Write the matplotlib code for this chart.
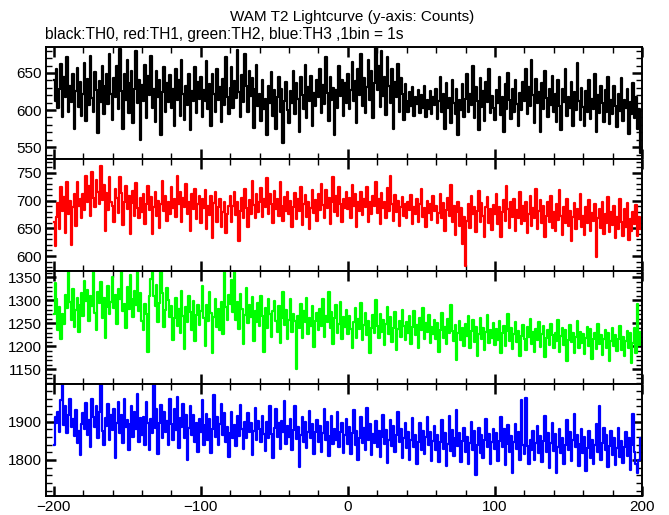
import numpy as np
import matplotlib.pyplot as plt
from matplotlib.ticker import MultipleLocator

plt.rcParams['font.family'] = ['Liberation Sans', 'DejaVu Sans']

# time bins (1 bin = 1 s)
t = np.arange(-200, 200)

th0 = [
    640, 612, 655, 603, 628, 662, 590, 645, 618, 672, 598, 633, 611, 649, 575, 626, 657, 604, 638, 592,
    621, 664, 585, 642, 607, 673, 616, 598, 651, 627, 569, 639, 611, 660, 594, 633, 648, 608, 676, 622,
    587, 643, 618, 659, 601, 682, 626, 575, 648, 613, 667, 596, 637, 653, 582, 628, 679, 609, 641, 559,
    634, 612, 661, 589, 646, 620, 673, 603, 629, 584, 652, 617, 640, 566, 624, 658, 598, 636, 611, 647,
    603, 629, 578, 655, 614, 640, 592, 667, 621, 586, 633, 607, 649, 573, 626, 612, 658, 596, 638, 615,
    644, 590, 627, 612, 666, 601, 635, 579, 648, 622, 597, 656, 613, 631, 584, 642, 607, 671, 618, 594,
    630, 658, 603, 639, 616, 681, 624, 590, 647, 611, 675, 632, 598, 652, 619, 643, 576, 628, 661, 605,
    622, 585, 640, 601, 615, 566, 633, 609, 651, 592, 627, 574, 618, 644, 597, 629, 556, 612, 638, 600,
    583, 626, 609, 652, 594, 637, 615, 571, 644, 620, 602, 661, 589, 631, 612, 646, 578, 623, 606, 640,
    617, 655, 596, 634, 608, 672, 623, 585, 645, 614, 630, 567, 627, 603, 659, 619, 641, 592, 636, 610,
    648, 601, 627, 665, 612, 639, 583, 656, 620, 675, 606, 643, 596, 631, 668, 613, 652, 589, 637, 684,
    627, 660, 604, 680, 619, 645, 593, 671, 632, 610, 656, 574, 638, 617, 662, 598, 643, 621, 587, 635,
    612, 598, 624, 605, 631, 592, 617, 608, 627, 596, 620, 603, 633, 590, 614, 601, 626, 594, 618, 607,
    629, 588, 612, 645, 597, 621, 574, 637, 603, 616, 583, 641, 609, 595, 628, 566, 614, 600, 635, 591,
    615, 649, 598, 622, 607, 660, 589, 631, 612, 573, 643, 604, 626, 585, 638, 611, 656, 596, 619, 603,
    586, 627, 609, 645, 593, 618, 571, 635, 602, 650, 614, 588, 629, 597, 641, 608, 579, 623, 600, 638,
    612, 656, 594, 631, 605, 667, 620, 583, 642, 609, 625, 571, 637, 601, 652, 616, 590, 628, 607, 646,
    598, 621, 584, 640, 606, 573, 629, 611, 655, 592, 617, 603, 638, 578, 624, 600, 663, 612, 587, 630,
    604, 579, 626, 597, 641, 588, 615, 602, 649, 570, 620, 596, 633, 609, 584, 627, 598, 644, 581, 613,
    595, 632, 606, 577, 621, 599, 643, 585, 614, 603, 629, 568, 611, 594, 637, 589, 618, 575, 602, 542,
]

th1 = [
    662, 618, 671, 695, 648, 724, 681, 706, 642, 733, 676, 699, 619, 688, 712, 655, 734, 690, 702, 668,
    711, 683, 744, 697, 726, 672, 751, 705, 689, 738, 716, 694, 762, 701, 729, 645, 714, 683, 742, 698,
    690, 662, 721, 705, 678, 743, 713, 656, 698, 726, 684, 709, 640, 695, 717, 672, 731, 687, 668, 705,
    679, 712, 658, 694, 727, 683, 707, 639, 688, 715, 672, 700, 650, 694, 736, 681, 708, 663, 697, 675,
    725, 687, 702, 671, 744, 693, 716, 662, 705, 688, 730, 676, 698, 645, 712, 684, 721, 667, 693, 708,
    660, 703, 687, 719, 648, 690, 674, 709, 632, 696, 715, 661, 688, 702, 653, 680, 697, 641, 676, 691,
    708, 662, 690, 715, 674, 698, 627, 682, 704, 669, 720, 687, 652, 701, 676, 735, 692, 668, 711, 680,
    697, 722, 671, 703, 688, 741, 676, 712, 694, 659, 718, 685, 702, 673, 733, 690, 664, 707, 681, 716,
    675, 699, 652, 688, 714, 667, 702, 681, 725, 656, 693, 710, 670, 697, 648, 686, 719, 678, 701, 664,
    711, 683, 730, 692, 668, 719, 686, 704, 657, 698, 743, 680, 708, 672, 725, 694, 661, 702, 687, 716,
    684, 705, 669, 728, 690, 712, 653, 697, 681, 716, 674, 703, 689, 725, 662, 698, 676, 708, 691, 733,
    677, 702, 658, 714, 686, 697, 669, 722, 681, 745, 693, 664, 710, 679, 699, 655, 688, 707, 672, 694,
    668, 698, 683, 710, 657, 689, 676, 703, 662, 694, 721, 671, 686, 652, 700, 678, 693, 665, 708, 681,
    690, 659, 677, 712, 668, 695, 645, 683, 704, 672, 728, 661, 690, 638, 679, 698, 655, 686, 621, 670,
    582, 664, 693, 651, 708, 675, 689, 643, 681, 717, 662, 696, 672, 634, 688, 706, 659, 684, 647, 692,
    676, 712, 658, 689, 635, 679, 701, 663, 726, 684, 650, 697, 671, 703, 645, 683, 668, 715, 657, 690,
    664, 698, 641, 676, 709, 655, 687, 669, 721, 648, 682, 701, 659, 690, 635, 673, 697, 662, 708, 651,
    680, 646, 694, 665, 719, 672, 638, 688, 660, 703, 654, 681, 627, 670, 695, 648, 684, 667, 712, 653,
    672, 638, 689, 659, 701, 645, 677, 663, 693, 598, 668, 684, 651, 697, 640, 675, 660, 706, 643, 679,
    656, 690, 632, 671, 648, 703, 661, 637, 684, 652, 696, 629, 667, 645, 679, 658, 692, 636, 671, 648,
]

th2 = [
    1271, 1338, 1302, 1236, 1285, 1215, 1270, 1249, 1311, 1283, 1362, 1297, 1258, 1324, 1242, 1279, 1305, 1231, 1290, 1317,
    1266, 1343, 1298, 1322, 1255, 1309, 1287, 1362, 1273, 1236, 1318, 1294, 1341, 1262, 1305, 1219, 1286, 1331, 1270, 1296,
    1352, 1283, 1311, 1248, 1325, 1302, 1362, 1276, 1293, 1240, 1330, 1282, 1356, 1304, 1263, 1320, 1289, 1362, 1278, 1316,
    1255, 1236, 1293, 1271, 1188, 1310, 1346, 1362, 1309, 1287, 1334, 1254, 1295, 1362, 1317, 1243, 1280, 1326, 1300, 1264,
    1287, 1213, 1262, 1306, 1245, 1281, 1229, 1320, 1267, 1194, 1285, 1252, 1309, 1274, 1236, 1298, 1211, 1268, 1289, 1247,
    1278, 1331, 1262, 1201, 1290, 1255, 1318, 1272, 1186, 1264, 1302, 1243, 1281, 1235, 1296, 1227, 1362, 1285, 1258, 1311,
    1292, 1344, 1274, 1362, 1258, 1296, 1238, 1315, 1281, 1205, 1268, 1327, 1250, 1289, 1263, 1308, 1212, 1276, 1252, 1294,
    1245, 1310, 1265, 1187, 1284, 1239, 1303, 1271, 1221, 1278, 1298, 1256, 1231, 1288, 1208, 1262, 1319, 1247, 1280, 1215,
    1258, 1303, 1232, 1271, 1256, 1150, 1266, 1240, 1292, 1219, 1276, 1252, 1306, 1227, 1262, 1245, 1287, 1198, 1255, 1273,
    1236, 1281, 1244, 1302, 1220, 1267, 1253, 1318, 1239, 1275, 1205, 1261, 1289, 1228, 1248, 1296, 1217, 1264, 1242, 1279,
    1226, 1265, 1238, 1197, 1252, 1283, 1219, 1260, 1238, 1294, 1213, 1247, 1272, 1225, 1255, 1186, 1241, 1268, 1229, 1301,
    1244, 1218, 1270, 1231, 1258, 1203, 1249, 1285, 1226, 1263, 1210, 1241, 1275, 1192, 1237, 1256, 1221, 1279, 1245, 1214,
    1252, 1229, 1266, 1205, 1243, 1278, 1225, 1247, 1197, 1262, 1235, 1284, 1216, 1250, 1231, 1269, 1208, 1243, 1226, 1257,
    1215, 1250, 1188, 1236, 1272, 1219, 1242, 1204, 1259, 1228, 1291, 1233, 1211, 1247, 1170, 1230, 1256, 1214, 1239, 1201,
    1248, 1222, 1265, 1196, 1234, 1257, 1209, 1243, 1179, 1227, 1262, 1215, 1240, 1193, 1231, 1268, 1207, 1236, 1219, 1250,
    1203, 1238, 1214, 1256, 1186, 1229, 1245, 1200, 1233, 1271, 1212, 1240, 1195, 1226, 1253, 1209, 1234, 1180, 1222, 1247,
    1216, 1192, 1243, 1221, 1260, 1205, 1231, 1187, 1238, 1214, 1252, 1199, 1227, 1244, 1176, 1218, 1235, 1202, 1249, 1224,
    1197, 1230, 1211, 1257, 1188, 1222, 1240, 1203, 1235, 1168, 1214, 1246, 1209, 1229, 1185, 1221, 1255, 1196, 1232, 1207,
    1226, 1183, 1219, 1242, 1200, 1237, 1173, 1215, 1228, 1194, 1248, 1206, 1224, 1181, 1217, 1236, 1197, 1230, 1168, 1212,
    1239, 1201, 1225, 1189, 1216, 1244, 1192, 1220, 1178, 1211, 1233, 1196, 1229, 1164, 1207, 1241, 1186, 1292, 1203, 1231,
]

th3 = [
    1838, 1912, 1896, 1925, 1873, 1955, 1998, 1890, 1940, 1871, 1918, 1960, 1885, 1907, 1862, 1930, 1843, 1876, 1812, 1895,
    1922, 1880, 1948, 1866, 1903, 1834, 1960, 1912, 1887, 1941, 1858, 1925, 1998, 1876, 1838, 1910, 1889, 1946, 1852, 1917,
    1878, 1934, 1805, 1896, 1952, 1870, 1916, 1845, 1960, 1887, 1903, 1826, 1893, 1940, 1860, 1924, 1881, 1971, 1848, 1909,
    1866, 1912, 1838, 1951, 1897, 1825, 1908, 1870, 1998, 1884, 1933, 1815, 1897, 1942, 1858, 1925, 1874, 1902, 1838, 1960,
    1895, 1852, 1934, 1877, 1963, 1832, 1910, 1886, 1945, 1858, 1918, 1801, 1883, 1940, 1865, 1918, 1848, 1897, 1822, 1908,
    1872, 1955, 1839, 1890, 1921, 1853, 1906, 1818, 1881, 1969, 1860, 1912, 1838, 1894, 1947, 1866, 1923, 1847, 1885, 1807,
    1870, 1926, 1858, 1892, 1837, 1915, 1862, 1944, 1880, 1829, 1898, 1856, 1923, 1874, 1897, 1813, 1875, 1935, 1852, 1902,
    1880, 1846, 1915, 1868, 1823, 1900, 1858, 1940, 1868, 1806, 1884, 1932, 1860, 1896, 1829, 1902, 1873, 1953, 1841, 1888,
    1861, 1907, 1826, 1878, 1940, 1854, 1885, 1782, 1866, 1913, 1847, 1898, 1830, 1874, 1927, 1856, 1893, 1815, 1872, 1905,
    1848, 1889, 1821, 1870, 1933, 1852, 1898, 1809, 1862, 1915, 1841, 1880, 1853, 1924, 1833, 1872, 1896, 1817, 1864, 1908,
    1842, 1887, 1815, 1869, 1929, 1838, 1876, 1800, 1858, 1911, 1845, 1882, 1826, 1935, 1853, 1894, 1812, 1867, 1844, 1902,
    1833, 1876, 1808, 1860, 1918, 1842, 1877, 1793, 1851, 1903, 1836, 1888, 1820, 1865, 1926, 1846, 1881, 1805, 1858, 1897,
    1831, 1872, 1801, 1853, 1909, 1834, 1866, 1790, 1848, 1897, 1827, 1875, 1816, 1861, 1913, 1839, 1874, 1798, 1850, 1888,
    1826, 1866, 1795, 1847, 1903, 1828, 1870, 1784, 1841, 1915, 1823, 1878, 1810, 1856, 1930, 1836, 1869, 1794, 1849, 1884,
    1822, 1860, 1789, 1843, 1898, 1827, 1875, 1760, 1838, 1882, 1819, 1865, 1805, 1852, 1906, 1833, 1868, 1790, 1846, 1880,
    1829, 1871, 1798, 1850, 1913, 1835, 1880, 1786, 1842, 1892, 1821, 1862, 1765, 1848, 1895, 1829, 1874, 1800, 1957, 1838,
    1815, 1962, 1836, 1790, 1852, 1827, 1876, 1801, 1844, 1888, 1818, 1863, 1795, 1849, 1914, 1822, 1870, 1780, 1843, 1897,
    1824, 1868, 1766, 1835, 1880, 1817, 1858, 1789, 1840, 1903, 1826, 1874, 1798, 1852, 1919, 1833, 1866, 1785, 1842, 1881,
    1818, 1861, 1772, 1832, 1876, 1805, 1853, 1790, 1838, 1894, 1822, 1940, 1801, 1845, 1883, 1826, 1864, 1781, 1837, 1875,
    1812, 1856, 1786, 1830, 1884, 1808, 1849, 1793, 1834, 1872, 1810, 1858, 1775, 1838, 1920, 1821, 1790, 1766, 1801, 1858,
]

series = [th0, th1, th2, th3]
colors = ['black', 'red', '#00ff00', 'blue']
ylims = [(534, 685), (573, 775), (1118, 1364), (1706, 1998)]
ymajor = [50, 50, 50, 100]
yminor = [10, 10, 10, 20]

fig = plt.figure(figsize=(6.69, 5.15), dpi=100)

# panel boxes in pixels (top, bottom)
rows = [(47, 159), (159, 271), (271, 384), (384, 496)]
left, right = 45.7, 642

for i, (top, bot) in enumerate(rows):
    ax = fig.add_axes([left / 669, 1 - bot / 515, (right - left) / 669, (bot - top) / 515])
    ax.step(t, series[i], where='mid', color=colors[i], lw=1.6)
    ax.set_xlim(-205.5, 200)
    ax.set_ylim(*ylims[i])
    ax.xaxis.set_major_locator(MultipleLocator(100))
    ax.xaxis.set_minor_locator(MultipleLocator(20))
    ax.yaxis.set_major_locator(MultipleLocator(ymajor[i]))
    ax.yaxis.set_minor_locator(MultipleLocator(yminor[i]))
    ax.tick_params(which='both', direction='in', top=True, right=True, labelsize=11, pad=3)
    ax.tick_params(which='major', length=7, width=1.8)
    ax.tick_params(which='minor', length=4, width=1)
    for s in ax.spines.values():
        s.set_linewidth(1.4)
    if i < 3:
        ax.tick_params(labelbottom=False)

fig.text(352 / 669, 1 - 17 / 515, 'WAM T2 Lightcurve (y-axis: Counts)', ha='center', va='center', fontsize=11)
fig.text(45 / 669, 1 - 35 / 515, 'black:TH0, red:TH1, green:TH2, blue:TH3 ,1bin = 1s', ha='left', va='center', fontsize=11.2)

fig.savefig('out.png', dpi=100)
